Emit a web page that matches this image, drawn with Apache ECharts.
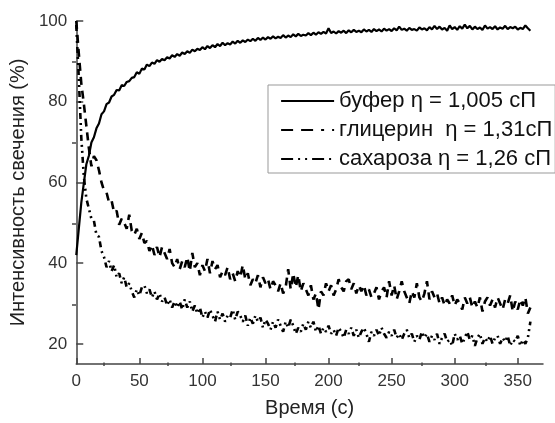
<!DOCTYPE html>
<html>
<head>
<meta charset="utf-8">
<script src="https://cdn.jsdelivr.net/npm/echarts@6/dist/echarts.min.js"></script>
<style>html,body{margin:0;padding:0;background:#fff}#c{width:555px;height:423px}</style>
</head>
<body>
<div id="c"></div>
<script>
const seriesNames = ['буфер η = 1,005 сП', 'глицерин  η = 1,31сП', 'сахароза η = 1,26 сП'];
const xTickLabels = [0, 50, 100, 150, 200, 250, 300, 350];
const xMinorTicks = [25, 75, 125, 175, 225, 275, 325];
const yTickLabels = [20, 40, 60, 80, 100];
const yMinorTicks = [30, 50, 70, 90];

const time = [
  0,2,4,6,8,10,12,14,16,18,
  20,22,24,26,28,30,32,34,36,38,
  40,42,44,46,48,50,52,54,56,58,
  60,62,64,66,68,70,72,74,76,78,
  80,82,84,86,88,90,92,94,96,98,
  100,102,104,106,108,110,112,114,116,118,
  120,122,124,126,128,130,132,134,136,138,
  140,142,144,146,148,150,152,154,156,158,
  160,162,164,166,168,170,172,174,176,178,
  180,182,184,186,188,190,192,194,196,198,
  200,202,204,206,208,210,212,214,216,218,
  220,222,224,226,228,230,232,234,236,238,
  240,242,244,246,248,250,252,254,256,258,
  260,262,264,266,268,270,272,274,276,278,
  280,282,284,286,288,290,292,294,296,298,
  300,302,304,306,308,310,312,314,316,318,
  320,322,324,326,328,330,332,334,336,338,
  340,342,344,346,348,350,352,354,356,358,
  360
];

const buffer = [
  42.0,48.5,55.0,59.8,64.5,66.6,69.9,71.2,73.4,74.6,
  76.9,77.6,79.4,79.8,81.3,81.7,82.9,82.8,84.1,83.9,
  84.9,85.1,85.9,86.1,87.3,86.9,88.2,88.0,89.2,88.8,
  89.7,89.4,90.3,89.9,90.6,90.3,91.0,90.7,91.5,91.1,
  91.8,91.4,92.2,91.8,92.5,92.1,92.9,92.5,93.1,92.8,
  93.5,93.0,93.8,93.3,94.0,93.5,94.3,93.8,94.6,94.0,
  94.5,94.2,94.9,94.4,95.1,94.6,95.2,94.8,95.4,95.0,
  95.6,95.1,95.8,95.3,95.9,95.4,96.0,95.6,96.2,95.7,
  96.1,95.8,96.5,95.9,96.4,96.0,96.7,96.2,96.8,96.3,
  96.6,96.4,97.0,96.5,97.1,96.6,97.2,96.8,97.3,96.9,
  98.2,97.0,97.4,96.9,97.5,97.1,97.6,97.0,97.7,97.2,
  97.8,97.3,97.6,97.2,97.9,97.4,97.8,97.3,98.0,97.5,
  97.9,97.4,98.1,97.6,98.0,97.5,98.2,97.7,98.6,97.8,
  98.1,97.6,98.3,97.8,98.0,97.6,98.4,97.9,98.2,97.7,
  98.5,97.9,98.8,98.0,98.6,97.9,98.3,97.6,98.9,98.0,
  98.5,97.8,98.7,98.1,99.1,98.2,98.8,97.9,98.6,98.0,
  98.4,97.8,98.9,98.1,98.5,98.0,98.7,97.9,98.4,98.1,
  98.8,98.0,98.5,98.2,98.6,97.9,98.3,98.0,98.9,98.2,
  97.6
];

const glycerin = [
  100.0,92.0,84.5,79.5,74.0,68.5,64.0,66.5,65.5,63.0,
  60.0,58.0,57.5,55.0,55.5,52.5,53.0,49.5,51.0,50.0,
  48.5,52.0,48.0,47.0,48.5,46.0,47.5,45.0,45.5,43.0,
  44.5,42.0,44.0,41.5,44.0,42.5,41.0,43.5,40.0,39.0,
  41.0,38.5,40.5,39.0,41.5,38.0,42.5,39.0,40.0,37.0,
  39.5,38.0,41.0,37.5,40.5,38.5,39.5,36.5,38.0,37.0,
  39.0,36.0,37.5,35.5,38.0,36.5,39.5,36.0,37.5,34.5,
  36.0,35.0,37.0,34.0,36.5,35.0,36.0,33.5,35.5,34.5,
  33.0,35.0,32.5,34.0,38.5,33.5,37.5,34.0,37.0,33.0,
  35.0,33.5,32.0,34.5,31.0,32.5,28.5,33.0,32.0,35.0,
  33.0,34.5,32.0,33.5,36.0,34.0,33.0,35.5,36.0,33.5,
  35.0,32.5,34.5,33.0,34.5,32.0,33.5,31.5,32.5,34.0,
  31.0,33.0,34.0,31.5,35.5,32.0,34.5,31.0,33.0,35.5,
  33.0,31.5,30.0,33.0,31.5,35.0,31.5,30.5,32.5,35.5,
  31.0,33.0,31.5,32.5,30.0,31.5,29.5,31.0,30.0,32.0,
  29.5,31.0,30.0,28.5,31.5,30.0,31.5,29.0,30.5,29.0,
  31.5,28.0,30.5,31.5,29.5,31.0,29.0,31.5,30.0,28.5,
  31.0,30.0,32.0,28.0,30.5,28.5,31.0,29.5,31.5,27.5,
  29.0
];

const sucrose = [
  99.0,86.0,71.0,61.5,56.0,53.5,51.0,50.5,47.0,46.5,
  43.0,41.5,39.0,40.5,38.0,39.5,36.5,37.5,35.0,36.5,
  34.0,35.0,33.0,31.5,33.5,32.0,34.0,34.5,32.5,33.5,
  31.5,33.0,31.0,32.5,30.5,31.5,29.5,31.0,29.0,30.5,
  29.0,30.5,28.5,31.0,29.0,30.5,28.0,29.5,27.5,29.0,
  26.5,28.0,26.5,28.5,27.0,25.5,28.0,26.0,27.5,25.5,
  27.0,26.5,28.5,26.0,28.0,27.0,25.5,27.0,24.5,26.5,
  25.0,27.0,25.5,26.5,24.0,26.0,25.0,23.5,25.5,24.0,
  26.0,24.5,23.0,25.5,24.0,26.0,24.5,22.5,24.0,23.0,
  25.0,23.5,25.5,24.0,25.5,23.0,24.5,22.5,24.0,23.0,
  24.5,22.5,23.5,22.0,24.0,23.0,21.5,23.5,22.5,24.0,
  22.0,23.5,21.5,23.0,24.0,22.5,20.5,23.0,22.0,23.5,
  22.0,24.0,22.5,21.5,23.0,22.0,23.5,21.5,22.5,21.0,
  22.5,23.5,21.5,22.5,20.5,22.0,21.0,23.0,21.5,22.5,
  20.5,22.0,21.0,22.5,20.0,21.5,22.5,20.5,21.0,19.5,
  22.5,21.0,22.0,20.0,21.5,23.0,21.0,22.0,19.5,21.5,
  22.5,20.0,21.5,20.5,22.0,20.0,21.5,22.0,20.0,21.5,
  20.5,22.0,19.5,21.0,20.5,22.0,19.5,21.0,20.0,21.5,
  25.5
];

const pairs = (vals) => time.map((t, i) => [t, vals[i]]);

const font = 'Liberation Sans, Arial, sans-serif';
const chart = echarts.init(document.getElementById('c'), null, { renderer: 'canvas' });
const gridBox = { left: 72, right: 12, top: 21, bottom: 57 };
const noSymbol = { color: 'rgba(0,0,0,0)', borderWidth: 0, opacity: 0 };

chart.setOption({
  animation: false,
  backgroundColor: '#fff',
  grid: [Object.assign({}, gridBox), Object.assign({}, gridBox)],
  legend: {
    orient: 'vertical',
    left: 268, top: 85,
    itemWidth: 53, itemHeight: 14, itemGap: 7,
    padding: [5, 3, 3, 12],
    backgroundColor: '#fff',
    borderColor: '#999', borderWidth: 1,
    textStyle: { fontSize: 22, fontFamily: font, color: '#111' },
    itemStyle: noSymbol,
    data: [
      { name: seriesNames[0], itemStyle: noSymbol, lineStyle: { type: 'solid', width: 2.2, color: '#000' } },
      { name: seriesNames[1], itemStyle: noSymbol, lineStyle: { type: [12, 8, 12, 8, 3, 8], width: 2.2, color: '#000' } },
      { name: seriesNames[2], itemStyle: noSymbol, lineStyle: { type: [12, 5, 2, 5, 2, 5], width: 2.2, color: '#000' } }
    ]
  },
  xAxis: [
    {
      type: 'value', gridIndex: 0, min: 0, max: 370,
      name: 'Время (с)', nameLocation: 'middle', nameGap: 34,
      nameTextStyle: { fontSize: 20, fontFamily: font, color: '#222' },
      axisLine: { show: true, onZero: false, lineStyle: { color: '#444', width: 1.5 } },
      axisTick: { show: true, inside: true, length: 6, customValues: xTickLabels, lineStyle: { color: '#444', width: 1.5 } },
      axisLabel: { customValues: xTickLabels, fontSize: 17, fontFamily: font, color: '#333', margin: 9 },
      splitLine: { show: false }
    },
    {
      type: 'value', gridIndex: 1, min: 0, max: 370,
      axisLine: { show: false },
      axisTick: { show: true, inside: true, length: 3.5, customValues: xMinorTicks, lineStyle: { color: '#444', width: 1.5 } },
      axisLabel: { show: false },
      splitLine: { show: false }
    }
  ],
  yAxis: [
    {
      type: 'value', gridIndex: 0, min: 15, max: 100,
      name: 'Интенсивность свечения (%)', nameLocation: 'middle', nameGap: 37,
      nameTextStyle: { fontSize: 20, fontFamily: font, color: '#222' },
      axisLine: { show: true, onZero: false, lineStyle: { color: '#444', width: 1.5 } },
      axisTick: { show: true, inside: true, length: 7, customValues: yTickLabels, lineStyle: { color: '#444', width: 1.5 } },
      axisLabel: { customValues: yTickLabels, fontSize: 17, fontFamily: font, color: '#333', margin: 9 },
      splitLine: { show: false }
    },
    {
      type: 'value', gridIndex: 1, min: 15, max: 100,
      axisLine: { show: false },
      axisTick: { show: true, inside: true, length: 4, customValues: yMinorTicks, lineStyle: { color: '#444', width: 1.5 } },
      axisLabel: { show: false },
      splitLine: { show: false }
    }
  ],
  series: [
    {
      name: seriesNames[0], type: 'line', xAxisIndex: 0, yAxisIndex: 0,
      data: pairs(buffer), showSymbol: false, symbol: 'none',
      lineStyle: { color: '#000', width: 2.2, type: 'solid' }, itemStyle: { color: '#000' }, z: 3
    },
    {
      name: seriesNames[1], type: 'line', xAxisIndex: 0, yAxisIndex: 0,
      data: pairs(glycerin), showSymbol: false, symbol: 'none',
      lineStyle: { color: '#000', width: 2.6, type: [8, 6] }, itemStyle: { color: '#000' }, z: 2
    },
    {
      name: seriesNames[2], type: 'line', xAxisIndex: 0, yAxisIndex: 0,
      data: pairs(sucrose), showSymbol: false, symbol: 'none',
      lineStyle: { color: '#000', width: 2.6, type: [6, 4, 2, 4, 2, 4] }, itemStyle: { color: '#000' }, z: 2
    }
  ]
});
</script>
</body>
</html>
